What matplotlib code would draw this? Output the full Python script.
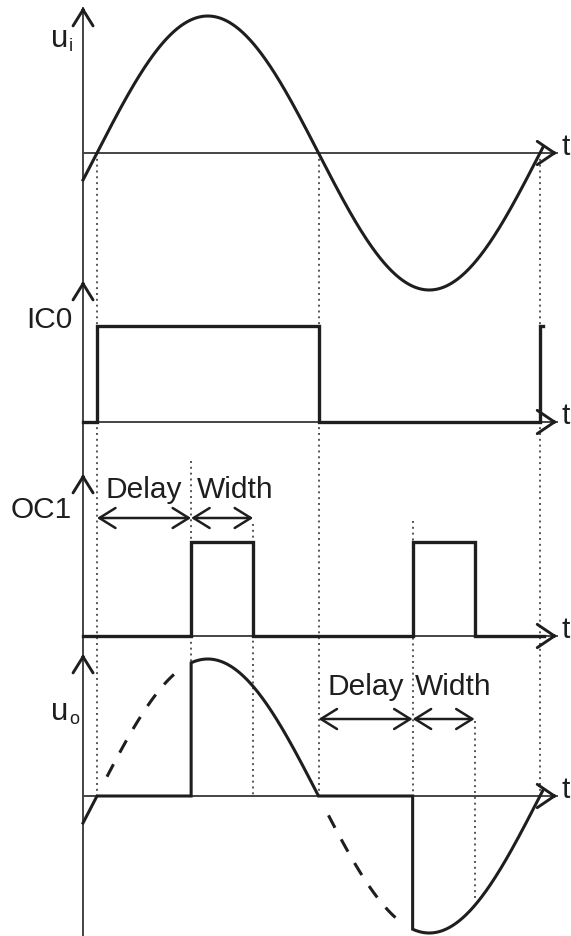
import numpy as np
import matplotlib.pyplot as plt

plt.rcParams['font.family'] = ['Liberation Sans', 'DejaVu Sans']

# timing of the diagram (one mains period = 20 time units)
period = 20.0
delay = 4.25        # firing delay after zero crossing
width = 2.8         # output pulse width
t_begin = -0.63     # where the time axes start
t_end = 20.15       # end of the drawn signals
t_tip = 20.77       # tip of the time axis arrows
zero_cross = [0.0, 10.0, 20.0]

amp = 137           # sine amplitude (px)
ic0_high = 96       # IC0 pulse height (px)
oc1_high = 94       # OC1 pulse height (px)

# baselines of the four traces (px from top)
base_ui, base_ic0, base_oc1, base_uo = 154, 423, 637, 797
channel_names = ['IC0', 'OC1']

px_t = 22.15        # px per time unit
x_zero = 97

ink = '#1e1e1e'
axis_col = '#444444'
dot_col = '#555555'
FS = 21.5

fig = plt.figure(figsize=(5.71, 9.37), dpi=100)
ax = fig.add_axes([0, 0, 1, 1])
ax.set_xlim(-x_zero / px_t, (571 - x_zero) / px_t)
ax.set_ylim(937, 0)
ax.axis('off')


def sine(t):
    return np.sin(2 * np.pi * np.asarray(t) / period)


def head(x, y, dx, dy, hl=0.62, hw=0.42):
    ax.annotate('', xy=(x, y), xytext=(dx, dy), textcoords='offset points',
                arrowprops=dict(arrowstyle='->,head_length=%g,head_width=%g' % (hl, hw),
                                lw=2.1, color=ink, shrinkA=0, shrinkB=0,
                                mutation_scale=20))


# vertical axis through all panels
ax.plot([t_begin, t_begin], [937, 9], color=axis_col, lw=1.4, zorder=2)
for ytip in [8, 282, 475, 655]:
    head(t_begin, ytip, 0, -3, hl=0.58, hw=0.36)

# time axes
for b in [base_ui, base_ic0, base_oc1, base_uo]:
    ax.plot([t_begin, t_tip], [b, b], color=axis_col, lw=1.4, zorder=2)
    head(t_tip, b, -3, 0)
    ax.text(t_tip + 0.22, b + 1, 't', fontsize=FS, ha='left', va='baseline', color=ink)

# dotted guide lines
guides = [(zero_cross[0], base_ui, base_uo),
          (zero_cross[1], base_ui, base_uo),
          (zero_cross[2], base_ui, base_uo),
          (delay, 462, 662),
          (delay + width, 525, base_uo),
          (10 + delay, 522, base_uo),
          (10 + delay + width, 722, base_uo - amp * sine(10 + delay + width) - 6)]
for tg, y0, y1 in guides:
    ax.plot([tg, tg], [y0, y1], color=dot_col, lw=1.4, ls=(0, (1, 2.0)), zorder=1)

# u_i : input sine
t = np.linspace(t_begin, t_end, 600)
ax.plot(t, base_ui - amp * sine(t), color=ink, lw=2.2, zorder=3)

# IC0 : zero-crossing detector
ic0_t = [t_begin, 0, 0, 10, 10, 20, 20, 20.12]
ic0_v = [0, 0, 1, 1, 0, 0, 1, 1]
ax.plot(ic0_t, base_ic0 - ic0_high * np.array(ic0_v), color=ink, lw=2.4, zorder=3,
        solid_joinstyle='miter')

# OC1 : delayed pulses
oc1_t = [t_begin, delay, delay, delay + width, delay + width,
         10 + delay, 10 + delay, 10 + delay + width, 10 + delay + width, 20.2]
oc1_v = [0, 0, 1, 1, 0, 0, 1, 1, 0, 0]
ax.plot(oc1_t, base_oc1 - oc1_high * np.array(oc1_v), color=ink, lw=2.4, zorder=3,
        solid_joinstyle='miter')

# u_o : phase-cut output
s1 = np.linspace(t_begin, 0, 20)
s2 = np.linspace(delay, 10, 200)
s3 = np.linspace(10 + delay, t_end, 200)
uo_t = np.concatenate([s1, [delay], s2, [10 + delay], s3])
uo_v = np.concatenate([sine(s1), [0], sine(s2), [0], sine(s3)])
ax.plot(uo_t, base_uo - amp * uo_v, color=ink, lw=2.2, zorder=3, solid_joinstyle='miter')

# dashed (cut away) parts of the sine
for a, b in [(0.45, 3.65), (10.45, 13.65)]:
    td = np.linspace(a, b, 100)
    ax.plot(td, base_uo - amp * sine(td), color=ink, lw=2.2, ls=(0, (4.6, 4.3)), zorder=3)

# Delay / Width arrows
for t0, y_arrow, y_text, w_off in [(0, 519, 498, 0.26), (10, 720, 695, 0.12)]:
    style = '<->,head_length=0.58,head_width=0.36'
    for xa, xb in [(t0, t0 + delay), (t0 + delay, t0 + delay + width)]:
        ax.annotate('', xy=(xb, y_arrow), xytext=(xa, y_arrow),
                    arrowprops=dict(arrowstyle=style, lw=1.8, color=ink,
                                    shrinkA=0, shrinkB=0, mutation_scale=20))
    ax.text(t0 + delay / 2, y_text, 'Delay', fontsize=FS, ha='center', va='baseline', color=ink)
    ax.text(t0 + delay + w_off, y_text, 'Width', fontsize=FS, ha='left', va='baseline', color=ink)

# trace labels
lab_x = (72 - x_zero) / px_t
ax.text(lab_x, 328, channel_names[0], fontsize=FS, ha='right', va='baseline', color=ink)
ax.text(lab_x, 518, channel_names[1], fontsize=FS, ha='right', va='baseline', color=ink)
for yb, sub in [(47, 'i'), (720, 'o')]:
    ax.text((68 - x_zero) / px_t, yb, 'u', fontsize=FS + 1, ha='right', va='baseline', color=ink)
    ax.text((69 - x_zero) / px_t, yb + 4, sub, fontsize=13, ha='left', va='baseline', color=ink)

fig.savefig('out.png', dpi=100)
